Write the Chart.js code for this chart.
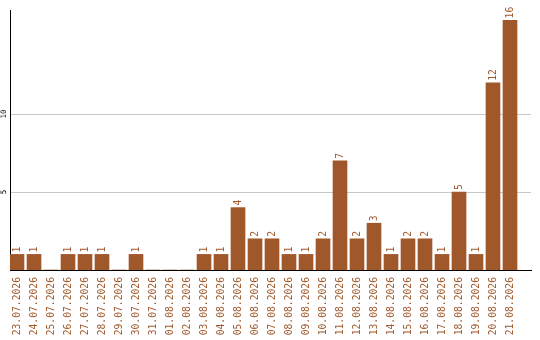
<!DOCTYPE html>
<html>
<head>
<meta charset="utf-8">
<script src="https://cdn.jsdelivr.net/npm/chart.js@4/dist/chart.umd.min.js"></script>
<style>
  html, body { margin: 0; padding: 0; background: #fff; }
  #wrap { width: 540px; height: 340px; }
</style>
</head>
<body>
<div id="wrap"><canvas id="myChart"></canvas></div>
<script>
const dates = [
    '23.07.2026', '24.07.2026', '25.07.2026', '26.07.2026', '27.07.2026',
    '28.07.2026', '29.07.2026', '30.07.2026', '31.07.2026', '01.08.2026',
    '02.08.2026', '03.08.2026', '04.08.2026', '05.08.2026', '06.08.2026',
    '07.08.2026', '08.08.2026', '09.08.2026', '10.08.2026', '11.08.2026',
    '12.08.2026', '13.08.2026', '14.08.2026', '15.08.2026', '16.08.2026',
    '17.08.2026', '18.08.2026', '19.08.2026', '20.08.2026', '21.08.2026'
];
const counts = [1, 1, 0, 1, 1, 1, 0, 1, 0, 0, 0, 1, 1, 4, 2, 2, 1, 1, 2, 7, 2, 3, 1, 2, 2, 1, 5, 1, 12, 16];
const yTicks = [5, 10];

const BROWN = '#a0582b';
const MONO = "'DejaVu Sans Mono', 'Liberation Mono', monospace";

// count written above every bar, turned to read upwards
const barValues = {
    id: 'barValues',
    afterDatasetsDraw(chart) {
        const ctx = chart.ctx;
        const meta = chart.getDatasetMeta(0);
        ctx.save();
        ctx.fillStyle = BROWN;
        ctx.font = '9.7px ' + MONO;
        ctx.textAlign = 'left';
        ctx.textBaseline = 'middle';
        meta.data.forEach((bar, i) => {
            if (!counts[i]) return;
            ctx.save();
            ctx.translate(bar.x, bar.y - 2);
            ctx.rotate(-Math.PI / 2);
            ctx.fillText(String(counts[i]), 0, 0);
            ctx.restore();
        });
        ctx.restore();
    }
};

const config = {
    type: 'bar',
    data: {
        datasets: [{
            data: counts.map((v, i) => ({x: i, y: v})),
            backgroundColor: BROWN,
            borderWidth: 0,
            barThickness: 14
        }]
    },
    options: {
        responsive: true,
        maintainAspectRatio: false,
        animation: false,
        layout: {padding: {top: 10, right: 9, bottom: 0, left: 0}},
        plugins: {legend: {display: false}, tooltip: {enabled: false}},
        scales: {
            x: {
                type: 'linear',
                offset: false,
                min: -7 / 17,
                max: -7 / 17 + 521 / 17,
                afterBuildTicks: axis => { axis.ticks = dates.map((d, i) => ({value: i})); },
                afterFit: axis => { axis.height = 70; },
                grid: {display: false, drawTicks: false},
                border: {color: '#000', width: 1},
                ticks: {
                    autoSkip: false,
                    minRotation: 90,
                    maxRotation: 90,
                    padding: 7,
                    color: BROWN,
                    font: {family: MONO, size: 9.7},
                    callback: v => dates[v]
                }
            },
            y: {
                min: 0,
                max: 16.67,
                afterBuildTicks: axis => { axis.ticks = yTicks.map(v => ({value: v})); },
                afterFit: axis => { axis.width = 10; },
                grid: {color: '#c8c8c8', drawTicks: false},
                border: {color: '#000', width: 1},
                ticks: {
                    minRotation: 90,
                    maxRotation: 90,
                    crossAlign: 'center',
                    padding: 1.5,
                    color: '#000',
                    font: {family: MONO, size: 7.5}
                }
            }
        }
    },
    plugins: [barValues]
};

const myChart = new Chart(document.getElementById('myChart'), config);
</script>
</body>
</html>
